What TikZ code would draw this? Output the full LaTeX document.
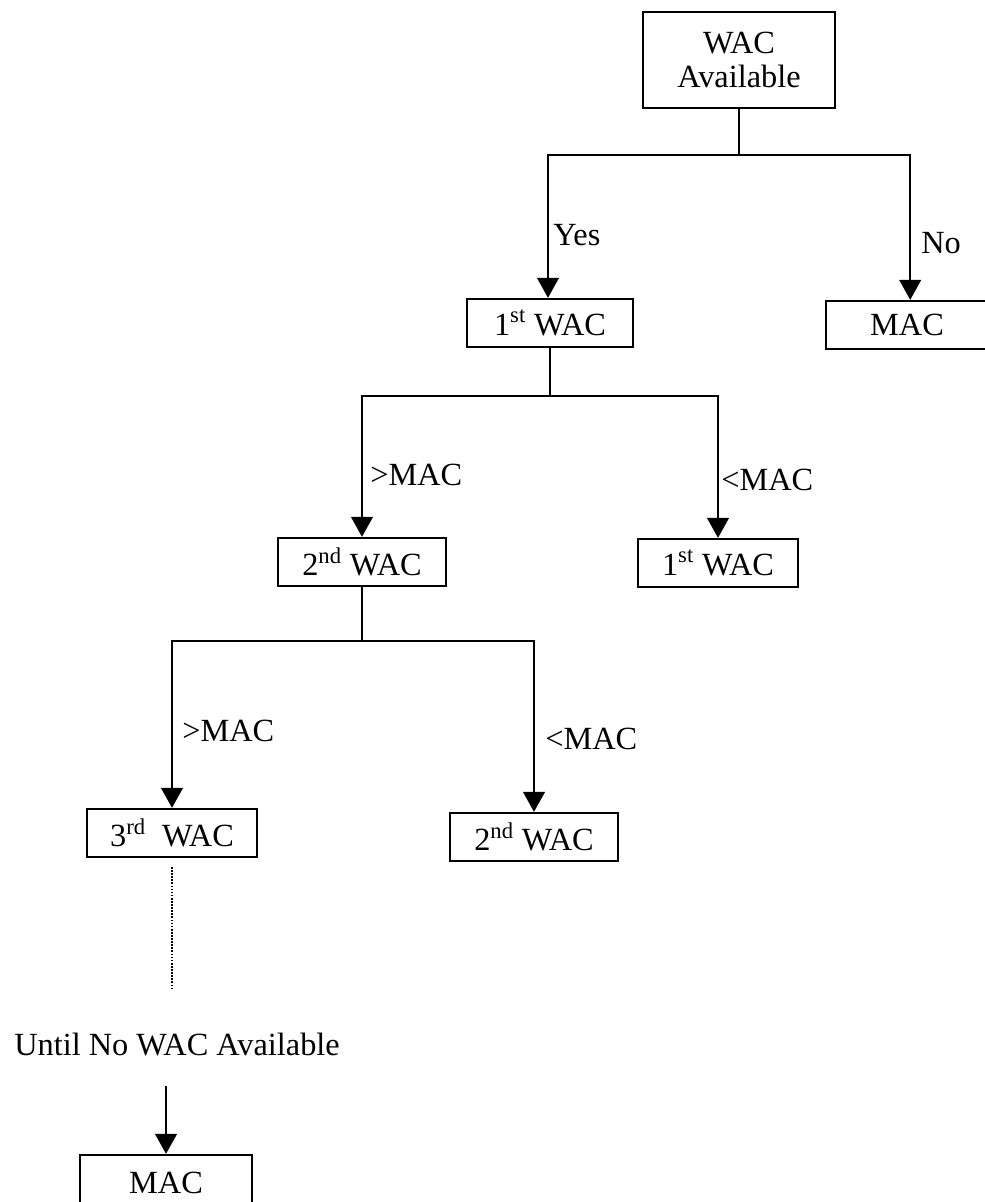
\documentclass[tikz,border=0pt]{standalone}
\usepackage{fontspec}
\setmainfont{Liberation Serif}
\usetikzlibrary{arrows.meta}

\tikzset{
  box/.style={draw, line width=1.6pt, minimum width=4.2cm, minimum height=1.2cm, inner sep=2pt},
  lbl/.style={inner sep=0pt, anchor=west},
  arr/.style={draw, line width=1.6pt, -{Triangle[width=0.54cm,length=0.5cm]}},
}

\begin{document}
\begin{tikzpicture}[x=0.025cm,y=-0.025cm,font=\fontsize{23}{24}\selectfont]
\useasboundingbox (0,0) rectangle (985,1202);

\node[box, minimum width=4.8cm, minimum height=2.4cm, align=center] (1) at (739,60) {WAC\\Available};
\node[box, minimum width=4.15cm] (2) at (550,323) {1\textsuperscript{st} WAC};
\node[box, minimum width=4.05cm] (3) at (907,325) {MAC};
\node[box, minimum width=4.2cm] (4) at (362,562) {2\textsuperscript{nd} WAC};
\node[box, minimum width=4cm] (5) at (718,563) {1\textsuperscript{st} WAC};
\node[box, minimum width=4.25cm] (6) at (172,833) {3\textsuperscript{rd}\ \ WAC};
\node[box, minimum width=4.2cm] (7) at (534,837) {2\textsuperscript{nd} WAC};
\node[inner sep=0pt, anchor=west] (8) at (14,1045) {Until No WAC Available};
\node[box, minimum width=4.3cm, minimum height=1.4cm] (9) at (166,1183) {MAC};

\coordinate (j1) at (739,155);
\coordinate (j2) at (550,396);
\coordinate (j3) at (362,641);
\coordinate (d) at (172,990);
\coordinate (u) at (166,1086);

\path[draw,line width=1.6pt] (1) -- (j1);
\path[arr] (j1) -| ([xshift=-0.05cm]2.north);
\path[arr] (j1) -| ([xshift=0.08cm]3.north);
\path[draw,line width=1.6pt] (2) -- (j2);
\path[arr] (j2) -| (4);
\path[arr] (j2) -| (5);
\path[draw,line width=1.6pt] (4) -- (j3);
\path[arr] (j3) -| (6);
\path[arr] (j3) -| (7);
\path[draw,line width=1.3pt,dash pattern=on 1.2pt off 1pt,shorten <=0.22cm] (6) -- (d);
\path[arr] (u) -- (9);

\node[lbl] at (553,235) {Yes};
\node[lbl] at (921,243) {No};
\node[lbl] at (370,475) {>MAC};
\node[lbl] at (721,480) {<MAC};
\node[lbl] at (182,731) {>MAC};
\node[lbl] at (545,739) {<MAC};
\end{tikzpicture}
\end{document}
